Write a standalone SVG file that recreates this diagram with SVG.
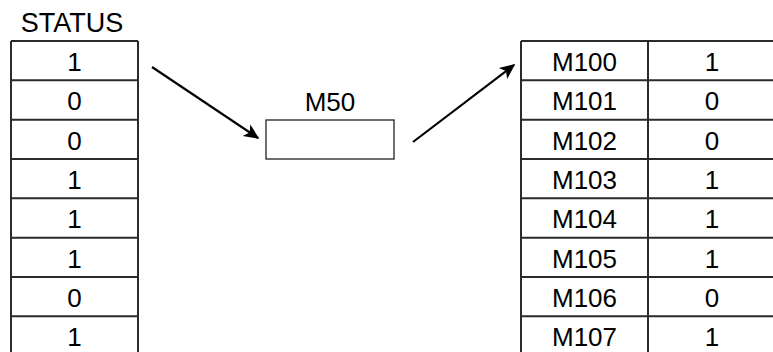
<svg xmlns="http://www.w3.org/2000/svg" width="773" height="352" viewBox="0 0 773 352">
<style>
.t{font-family:"Liberation Sans",Arial,sans-serif;font-size:26px;fill:#000;text-anchor:middle}
.g{stroke:#2b2b2b;stroke-width:2;fill:none}
.c{stroke:#000;stroke-width:2.2;fill:none}
</style>
<defs>
<marker id="ah" viewBox="0 0 10 10" refX="9" refY="5" markerWidth="7" markerHeight="7" orient="auto" markerUnits="strokeWidth">
<path d="M0,0.5 L10,5 L0,9.5 L2.5,5 Z" fill="#000"/>
</marker>
</defs>
<rect width="773" height="352" fill="#fff"/>
<g id="status">
<text class="t" x="72" y="32" style="font-size:27px">STATUS</text>
<path class="g" d="M11,41V353M138,41V353M11,41H138M11,80.3H138M11,119.7H138M11,159H138M11,198.3H138M11,237.7H138M11,277H138M11,316.3H138"/>
<text class="t" x="74.5" y="71">1</text>
<text class="t" x="74.5" y="110.3">0</text>
<text class="t" x="74.5" y="149.7">0</text>
<text class="t" x="74.5" y="189">1</text>
<text class="t" x="74.5" y="228.3">1</text>
<text class="t" x="74.5" y="267.7">1</text>
<text class="t" x="74.5" y="307">0</text>
<text class="t" x="74.5" y="346.3">1</text>
</g>
<g id="m50">
<text class="t" x="330" y="111">M50</text>
<rect x="266" y="120" width="128" height="39" fill="none" stroke="#222" stroke-width="1.3"/>
</g>
<g id="bits">
<path class="g" d="M521,41V353M648,41V353M521,41H775M521,80.3H775M521,119.7H775M521,159H775M521,198.3H775M521,237.7H775M521,277H775M521,316.3H775"/>
<text class="t" x="584.5" y="71">M100</text>
<text class="t" x="584.5" y="110.3">M101</text>
<text class="t" x="584.5" y="149.7">M102</text>
<text class="t" x="584.5" y="189">M103</text>
<text class="t" x="584.5" y="228.3">M104</text>
<text class="t" x="584.5" y="267.7">M105</text>
<text class="t" x="584.5" y="307">M106</text>
<text class="t" x="584.5" y="346.3">M107</text>
<text class="t" x="712" y="71">1</text>
<text class="t" x="712" y="110.3">0</text>
<text class="t" x="712" y="149.7">0</text>
<text class="t" x="712" y="189">1</text>
<text class="t" x="712" y="228.3">1</text>
<text class="t" x="712" y="267.7">1</text>
<text class="t" x="712" y="307">0</text>
<text class="t" x="712" y="346.3">1</text>
</g>
<g id="connectors">
<line class="c" x1="152" y1="67" x2="258" y2="138" marker-end="url(#ah)"/>
<line class="c" x1="413" y1="142" x2="514" y2="65" marker-end="url(#ah)"/>
</g>
</svg>
